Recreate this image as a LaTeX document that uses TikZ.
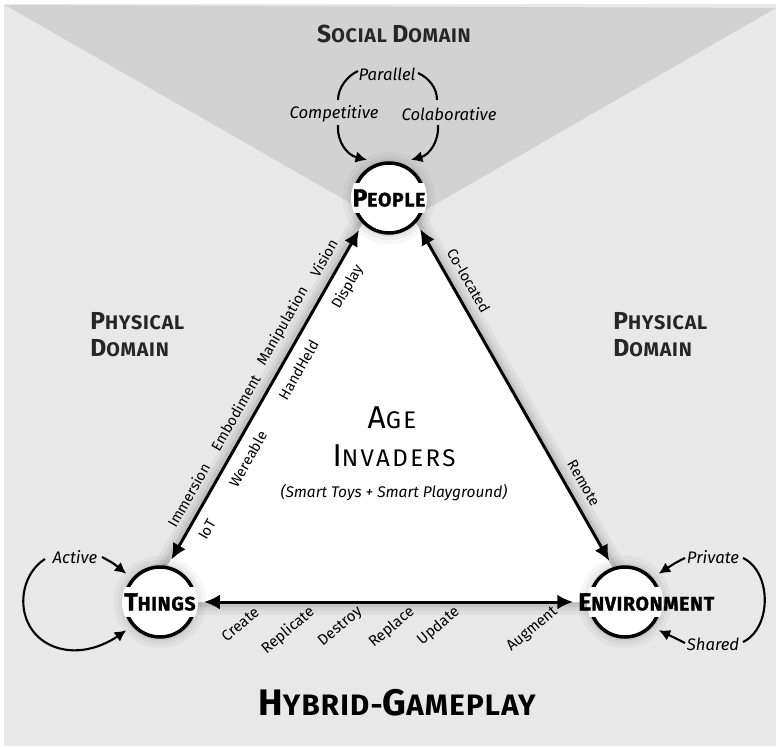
\documentclass[tikz,border=0pt]{standalone}
\usepackage{fontspec}
\setmainfont{Fira Sans}
\newfontfamily\titlefont{Fira Sans}[LetterSpace=4]
\newfontfamily\heavyfont{Fira Sans}[LetterSpace=4,FakeBold=1.5]
\newfontfamily\centerfont{Fira Sans}[LetterSpace=10]
\usepackage{tikz}
\usetikzlibrary{arrows.meta}

\definecolor{physicalgray}{HTML}{E8E8E8}
\definecolor{socialgray}{HTML}{D2D2D2}

% first letter of a small caps word
\newcommand{\initialcap}[2][14]{{\fontsize{#1}{#1}\selectfont #2}}

\tikzset{
  relarrow/.style={line width=1.7pt, {Latex[length=9pt,width=8.5pt]}-{Latex[length=9pt,width=8.5pt]}},
  cyclearrow/.style={line width=1.2pt},
  cycletip/.style={cyclearrow, -{Latex[length=6.5pt,width=6.5pt]}},
  entity/.style={circle, draw, line width=2pt, fill=white, minimum size=1.4cm, inner sep=0pt, outer sep=0.18cm,
    preaction={draw=black, opacity=.03, line width=13pt},
    preaction={draw=black, opacity=.04, line width=8pt},
    preaction={draw=black, opacity=.06, line width=4pt}},
  entitytext/.style={font=\heavyfont\bfseries\fontsize{11}{13}\selectfont, inner sep=0pt},
  domaintext/.style={font=\titlefont\bfseries\fontsize{11.2}{15.3}\selectfont, text=black!85, align=left, inner sep=0pt},
  edgelabel/.style={font=\fontsize{8.3}{10}\selectfont, inner sep=1pt, sloped},
  bottomlabel/.style={font=\fontsize{8.6}{10}\selectfont, inner sep=1pt, rotate=40, anchor=east, yshift=-4.5pt},
  modelabel/.style={font=\itshape\fontsize{9.5}{11}\selectfont, inner sep=1pt}
}

\begin{document}
\begin{tikzpicture}[x=0.02cm, y=-0.02cm]
  \useasboundingbox (0,0) rectangle (776,746);

  % Background
  \fill[white] (0,0) rectangle (776,746);
  \fill[physicalgray] (4,4) rectangle (776,746);
  \fill[socialgray] (5,5) -- (776,8) -- (394,228) -- cycle;

  % Game triangle
  \coordinate (apex) at (389.5,176.6);
  \coordinate (leftcorner) at (146.6,602);
  \coordinate (rightcorner) at (632,602);
  \foreach \w/\o in {0.5cm/0.04, 0.34cm/0.05, 0.2cm/0.07}
    \draw[line width=\w, black, opacity=\o, line join=round] (apex) -- (leftcorner) -- (rightcorner) -- cycle;
  \fill[white] (apex) -- (leftcorner) -- (rightcorner) -- cycle;

  % Entities
  \node[entity] (people) at (389,198) {};
  \node[entity] (things) at (160,602) {};
  \node[entity] (env) at (625,602) {};
  \foreach \n in {people, things, env} {
    \begin{scope}
      \clip (\n.center) circle (0.76cm);
      \fill[white] ([shift={(-45,-15)}]\n.center) rectangle ([shift={(45,15)}]\n.center);
    \end{scope}
  }
  \node[entitytext] (peoplelabel) at (people.center) {\initialcap{P}EOPLE};
  \node[entitytext] (thingslabel) at (things.center) {\initialcap{T}HINGS};
  \node[entitytext, anchor=west] (envlabel) at (578,602) {\initialcap{E}NVIRONMENT};

  % Relations
  \draw[relarrow] (things.75) -- (people.227)
    node[edgelabel, pos=.17, above=4.5pt] (immersion) {Immersion}
    node[edgelabel, pos=.42, above=4.5pt] (embodiment) {Embodiment}
    node[edgelabel, pos=.68, above=4.5pt] (manipulation) {Manipulation}
    node[edgelabel, pos=.89, above=4.5pt] (vision) {Vision}
    node[edgelabel, pos=.115, below=4.5pt] (iot) {IoT}
    node[edgelabel, pos=.33, below=4.5pt] (wereable) {Wereable}
    node[edgelabel, pos=.60, below=4.5pt] (handheld) {HandHeld}
    node[edgelabel, pos=.855, below=4.5pt] (display) {Display};
  \draw[relarrow] (people.315) -- (env.111)
    node[edgelabel, pos=.18, above=4.5pt] (colocated) {Co-located}
    node[edgelabel, pos=.79, above=4.5pt] (remote) {Remote};
  \draw[relarrow, shorten >=4.5pt] (things.east) -- (env.west)
    node[bottomlabel, pos=.133] (create) {Create}
    node[bottomlabel, pos=.281] (replicate) {Replicate}
    node[bottomlabel, pos=.408] (destroy) {Destroy}
    node[bottomlabel, pos=.546] (replace) {Replace}
    node[bottomlabel, pos=.666] (update) {Update}
    node[bottomlabel, pos=.926] (augment) {Augment};

  % Social modes
  \node[modelabel] (parallel) at (387,74) {Parallel};
  \node[modelabel] (competitive) at (334,114) {Competitive};
  \node[modelabel] (colaborative) at (449,114) {Colaborative};
  \draw[cyclearrow] (358,71) .. controls (347,76) and (338,88) .. (338,100);
  \draw[cyclearrow] (418,73) .. controls (429,78) and (437,88) .. (437,100);
  \draw[cycletip] (338,125) .. controls (337,142) and (347,155) .. (people.120);
  \draw[cycletip] (438,125) .. controls (439,142) and (429,155) .. (people.60);

  % Things modes
  \node[modelabel] (active) at (75,557) {Active};
  \draw[cycletip] (102,557) .. controls (113,563) .. (things.140);
  \draw[cycletip] (45,559) .. controls (15,578) and (14,632) .. (55,647)
    .. controls (80,656) and (105,645) .. (things.220);

  % Environment modes
  \node[modelabel] (private) at (713,557) {Private};
  \node[modelabel] (shared) at (713,644) {Shared};
  \draw[cycletip] (685,558) .. controls (675,563) .. (env.40);
  \draw[cycletip] (685,643) .. controls (675,638) .. (env.-40);
  \draw[cyclearrow] (743,558) .. controls (772,572) and (772,628) .. (743,642);

  % Titles
  \node[domaintext, font=\titlefont\bfseries\fontsize{11.2}{13}\selectfont] (social) at (394,34) {\initialcap{S}OCIAL \initialcap{D}OMAIN};
  \node[domaintext, anchor=west] (physleft) at (90,335) {\initialcap{P}HYSICAL\\\initialcap{D}OMAIN};
  \node[domaintext, anchor=west] (physright) at (613,335) {\initialcap{P}HYSICAL\\\initialcap{D}OMAIN};
  \node[font=\centerfont\fontsize{13.7}{15}\selectfont, inner sep=0pt] (age) at (392,418) {\initialcap[18]{A}GE};
  \node[font=\centerfont\fontsize{13.7}{15}\selectfont, inner sep=0pt] (invaders) at (394,456) {\initialcap[18]{I}NVADERS};
  \node[modelabel, font=\itshape\fontsize{8.8}{10}\selectfont] (subtitle) at (394,493) {(Smart Toys + Smart Playground)};
  \node[font=\titlefont\bfseries\fontsize{16.8}{18}\selectfont, inner sep=0pt] (hybrid) at (397,703) {\initialcap[21]{H}YBRID-\initialcap[21]{G}AMEPLAY};
\end{tikzpicture}
\end{document}
